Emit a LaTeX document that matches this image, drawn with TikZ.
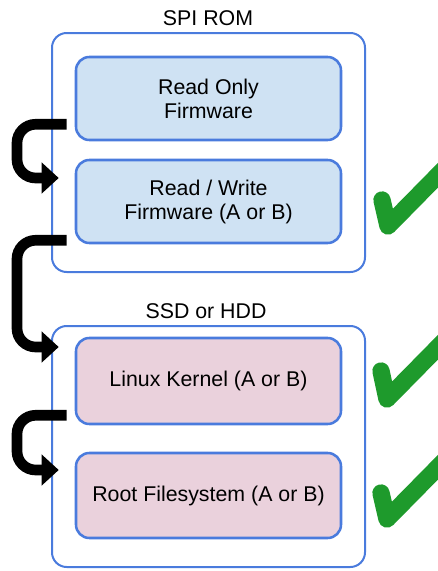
\documentclass[tikz,border=0pt]{standalone}
\usepackage{fontspec}
\setmainfont{Liberation Sans}
\usetikzlibrary{arrows.meta,calc}
\definecolor{edgeblue}{HTML}{4A7BDD}
\definecolor{fwfill}{HTML}{CFE2F3}
\definecolor{osfill}{HTML}{EAD1DC}
\definecolor{checkgreen}{HTML}{1E9A2C}
\begin{document}
\begin{tikzpicture}[x=0.75pt,y=-0.75pt,
  every node/.style={font=\fontsize{16}{18}\selectfont, inner sep=0pt, align=center},
  outerbox/.style={draw=edgeblue, line width=1.5pt, rounded corners=11pt,
    minimum width=234.75pt, minimum height=179.25pt},
  stagebox/.style={draw=edgeblue, line width=1.9pt, rounded corners=10pt,
    minimum width=198.75pt},
  bigarrow/.style={line width=8pt, rounded corners=14pt, -{Triangle[length=12.75pt,width=22.5pt]}},
  checkmark/.style={draw=checkgreen, line width=13pt, line cap=round, line join=round}]
\useasboundingbox (0,0) rectangle (438,571);
\clip (0,0) rectangle (438,571);
% containers
\node[outerbox] (rom) at (208.5,152.5) {};
\node[outerbox, minimum height=180.75pt] (disk) at (208.5,446.5) {};
\node (romlabel) at (208,18) {SPI ROM};
\node (disklabel) at (206,311) {SSD or HDD};
% stages
\node[stagebox, fill=fwfill, minimum height=62.25pt] (rof) at (208.5,98.5) {Read Only\\Firmware};
\node[stagebox, fill=fwfill, minimum height=62.25pt] (rwf) at (208.5,201.5) {Read / Write\\Firmware (A or B)};
\node[stagebox, fill=osfill, minimum height=64.5pt] (kern) at (208.5,381) {Linux Kernel (A or B)};
\node[stagebox, fill=osfill, minimum height=63.75pt] (rootfs) at (208.5,495.5) {Root Filesystem (A or B)};
% arrows
\coordinate (lane) at (17,0);
\coordinate (a1s) at ($(rof.south west)+(-8,-17)$);
\coordinate (a1e) at ($(rwf.west)+(-16,-23.5)$);
\coordinate (a2s) at ($(rwf.south west)+(-8,-4)$);
\coordinate (a2e) at ($(kern.west)+(-16,-34)$);
\coordinate (a3s) at ($(kern.south west)+(-8,-10)$);
\coordinate (a3e) at ($(rootfs.west)+(-16,-25.5)$);
\draw[bigarrow] (a1s) -- (a1s -| lane) |- (a1e);
\draw[bigarrow] (a2s) -- (a2s -| lane) |- (a2e);
\draw[bigarrow] (a3s) -- (a3s -| lane) |- (a3e);
% check marks
\draw[checkmark] (382,200) -- (388,226) -- (450,163);
\draw[checkmark] (381,371) -- (387,399) -- (450,335);
\draw[checkmark] (381,493) -- (387,519) -- (450,455);
\end{tikzpicture}
\end{document}
